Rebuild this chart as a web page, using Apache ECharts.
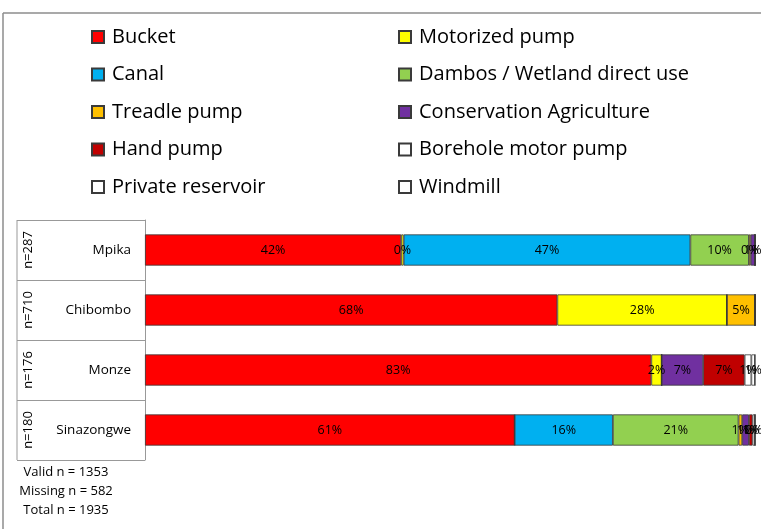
<!DOCTYPE html>
<html>
<head>
<meta charset="utf-8">
<script src="https://cdn.jsdelivr.net/npm/echarts@6/dist/echarts.min.js"></script>
<style>
  html, body { margin: 0; padding: 0; background: #fff; }
  #chart { width: 761px; height: 529px; }
</style>
</head>
<body>
<div id="chart"></div>
<script>
// districts, top to bottom
const districts = ["Mpika", "Chibombo", "Monze", "Sinazongwe"];
const sampleSizes = ["n=287", "n=710", "n=176", "n=180"];

// share of households per irrigation method (%)
const bucket        = [42, 67.6, 83, 60.6];
const motorizedPump = [0.4, 27.8, 1.7, 0];
const canal         = [47, 0, 0, 16.1];
const dambos        = [9.6, 0, 0, 20.6];
const treadlePump   = [0.3, 4.6, 0, 0.6];
const conservation  = [0.7, 0, 6.8, 1.1];
const handPump      = [0, 0, 6.8, 0.6];
const borehole      = [0, 0, 1.1, 0.4];
const reservoir     = [0, 0, 0.6, 0];
const windmill      = [0, 0, 0, 0];

const footerLines = ["Valid n = 1353", "Missing n = 582", "Total n = 1935"];

const methods = [
  { name: "Bucket", data: bucket, color: "#FF0000" },
  { name: "Motorized pump", data: motorizedPump, color: "#FFFF00" },
  { name: "Canal", data: canal, color: "#00B0F0" },
  { name: "Dambos / Wetland direct use", data: dambos, color: "#92D050" },
  { name: "Treadle pump", data: treadlePump, color: "#FFC000" },
  { name: "Conservation Agriculture", data: conservation, color: "#7030A0" },
  { name: "Hand pump", data: handPump, color: "#C00000" },
  { name: "Borehole motor pump", data: borehole, color: "#FFFFFF" },
  { name: "Private reservoir", data: reservoir, color: "#FFFFFF" },
  { name: "Windmill", data: windmill, color: "#FFFFFF" },
];

const font = "'Open Sans', 'Noto Sans', sans-serif";

function legendBlock(names, left) {
  return {
    data: names,
    orient: "vertical",
    left: left,
    top: 21,
    icon: "rect",
    itemWidth: 12,
    itemHeight: 12,
    itemGap: 15.5,
    selectedMode: false,
    textStyle: { fontFamily: font, fontSize: 20, lineHeight: 22, color: "#000", padding: [0, 0, 0, 3] },
  };
}

const chart = echarts.init(document.getElementById("chart"));
chart.setOption({
  animation: false,
  legend: [
    legendBlock(["Bucket", "Canal", "Treadle pump", "Hand pump", "Private reservoir"], 86),
    legendBlock(["Motorized pump", "Dambos / Wetland direct use", "Conservation Agriculture", "Borehole motor pump", "Windmill"], 393),
  ],
  grid: { left: 145, top: 220, width: 610, height: 240, containLabel: false },
  xAxis: { type: "value", min: 0, max: 100, show: false },
  yAxis: [
    {
      type: "category",
      data: districts,
      inverse: true,
      axisLine: { show: true, lineStyle: { color: "#999" } },
      axisTick: { show: true, length: 128, lineStyle: { color: "#999" } },
      axisLabel: { margin: 14, color: "#000", fontFamily: font, fontSize: 13.5 },
    },
    {
      type: "category",
      data: sampleSizes,
      inverse: true,
      position: "left",
      offset: 110,
      axisLine: { show: false },
      axisTick: { show: false },
      axisLabel: { rotate: 90, margin: 0, color: "#000", fontFamily: font, fontSize: 13 },
    },
  ],
  series: methods.map((m) => ({
    name: m.name,
    type: "bar",
    stack: "total",
    yAxisIndex: 0,
    barWidth: "52%",
    data: m.data,
    itemStyle: { color: m.color, borderColor: "#3a3a3a", borderWidth: 0.8 },
    label: {
      show: true,
      position: "inside",
      color: "#000",
      fontFamily: font,
      fontSize: 12.5,
      formatter: (p) => (p.value > 0 ? Math.round(p.value) + "%" : ""),
    },
  })),
  graphic: [
    { type: "line", shape: { x1: 3, y1: 13, x2: 3, y2: 529 }, style: { stroke: "#8c8c8c", lineWidth: 1.5 } },
    { type: "line", shape: { x1: 3, y1: 13, x2: 761, y2: 13 }, style: { stroke: "#8c8c8c", lineWidth: 1.5 } },
    { type: "line", shape: { x1: 17, y1: 220, x2: 17, y2: 460 }, style: { stroke: "#999", lineWidth: 1 } },
    ...footerLines.map((t, i) => ({
      type: "text",
      x: 66,
      y: 472 + i * 19,
      style: { text: t, fill: "#000", font: "13px " + font, textAlign: "center", textVerticalAlign: "middle" },
    })),
  ],
});
</script>
</body>
</html>
